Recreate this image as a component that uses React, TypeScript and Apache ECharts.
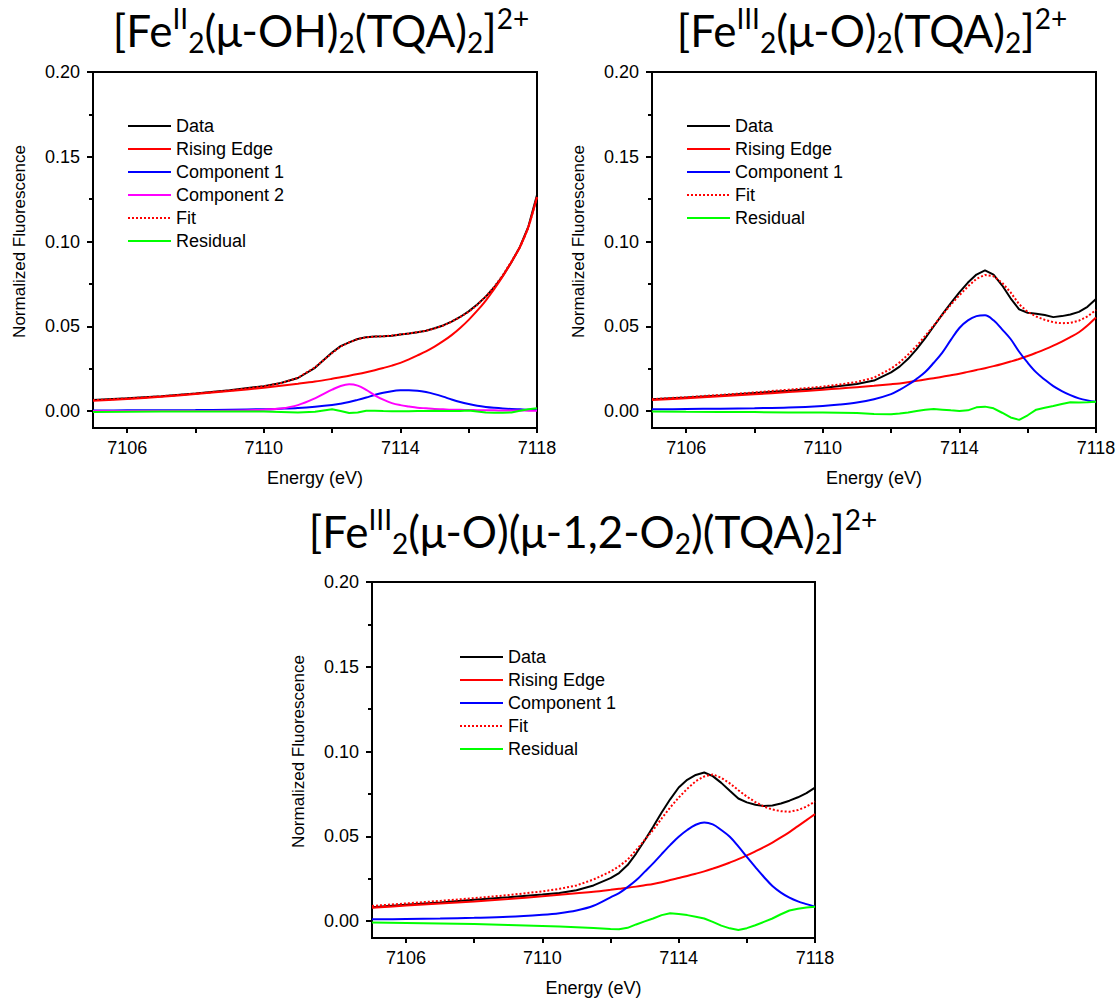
import React, { useEffect, useRef } from "react";
import * as echarts from "echarts";

// Shared energy grid (eV)
const energy = [7105, 7106, 7107, 7108, 7109, 7110, 7110.5, 7111, 7111.5, 7112, 7112.25, 7112.5, 7112.75, 7113, 7113.25, 7113.5, 7113.75, 7114, 7114.25, 7114.5, 7114.75, 7115, 7115.25, 7115.5, 7115.75, 7116, 7116.25, 7116.5, 7116.75, 7117, 7117.25, 7117.5, 7117.75, 7118];

// Panel 1: [FeII2(mu-OH)2(TQA)2]2+
const p1Data = [0.0065, 0.0075, 0.0088, 0.0104, 0.0122, 0.0147, 0.0165, 0.0195, 0.0255, 0.0345, 0.0383, 0.0405, 0.0425, 0.0436, 0.0440, 0.0441, 0.0444, 0.0452, 0.0458, 0.0465, 0.0474, 0.0488, 0.0505, 0.0527, 0.0555, 0.0588, 0.0628, 0.0675, 0.0730, 0.0798, 0.0878, 0.0968, 0.1090, 0.1275];
const p1Edge = [0.0060, 0.0071, 0.0084, 0.0100, 0.0118, 0.0138, 0.0149, 0.0161, 0.0174, 0.0190, 0.0199, 0.0208, 0.0218, 0.0229, 0.0241, 0.0254, 0.0268, 0.0284, 0.0305, 0.0328, 0.0352, 0.0380, 0.0412, 0.0448, 0.0490, 0.0538, 0.0592, 0.0652, 0.0720, 0.0795, 0.0878, 0.0968, 0.1088, 0.1262];
const p1Comp1 = [0.0003, 0.0004, 0.0005, 0.0006, 0.0008, 0.0011, 0.0014, 0.0018, 0.0025, 0.0035, 0.0043, 0.0053, 0.0066, 0.0080, 0.0095, 0.0108, 0.0117, 0.0122, 0.0123, 0.0120, 0.0112, 0.0100, 0.0085, 0.0068, 0.0053, 0.0041, 0.0031, 0.0024, 0.0019, 0.0015, 0.0012, 0.0010, 0.0008, 0.0007];
const p1Comp2 = [0, 0, 0, 0, 0.0002, 0.0008, 0.0015, 0.0035, 0.0075, 0.0126, 0.0148, 0.0158, 0.0150, 0.0125, 0.0093, 0.0067, 0.0047, 0.0035, 0.0027, 0.0020, 0.0016, 0.0012, 0.0010, 0.0008, 0.0007, 0.0006, 0.0005, 0.0004, 0.0004, 0.0003, 0.0003, 0.0003, 0.0002, 0.0002];
const p1Fit = [0.0064, 0.0074, 0.0087, 0.0103, 0.0121, 0.0146, 0.0164, 0.0196, 0.0258, 0.0342, 0.0380, 0.0405, 0.0425, 0.0435, 0.0439, 0.0441, 0.0445, 0.0452, 0.0458, 0.0465, 0.0474, 0.0487, 0.0504, 0.0527, 0.0555, 0.0585, 0.0626, 0.0676, 0.0734, 0.0802, 0.0882, 0.0966, 0.1082, 0.1262];
const p1Resid = [-0.0005, -0.0004, -0.0003, -0.0003, -0.0002, -0.0003, -0.0005, -0.0008, -0.0004, 0.0010, 0.0000, -0.0012, -0.0008, 0.0002, 0.0002, 0.0000, -0.0001, -0.0001, -0.0001, 0.0000, 0.0001, 0.0002, 0.0001, 0.0000, 0.0001, 0.0003, -0.0002, -0.0008, -0.0010, -0.0010, -0.0008, 0.0002, 0.0010, 0.0017];

// Panel 2: [FeIII2(mu-O)2(TQA)2]2+
const p2Data = [0.0069, 0.0080, 0.0092, 0.0106, 0.0120, 0.0136, 0.0148, 0.0160, 0.0180, 0.0228, 0.0262, 0.0308, 0.0365, 0.0430, 0.0500, 0.0570, 0.0636, 0.0700, 0.0758, 0.0805, 0.0830, 0.0805, 0.0742, 0.0665, 0.0600, 0.0580, 0.0574, 0.0566, 0.0554, 0.0560, 0.0570, 0.0585, 0.0615, 0.0661];
const p2Edge = [0.0065, 0.0076, 0.0087, 0.0099, 0.0112, 0.0126, 0.0133, 0.0141, 0.0149, 0.0158, 0.0163, 0.0170, 0.0178, 0.0186, 0.0194, 0.0202, 0.0211, 0.0220, 0.0231, 0.0242, 0.0253, 0.0265, 0.0278, 0.0292, 0.0307, 0.0325, 0.0344, 0.0364, 0.0386, 0.0410, 0.0436, 0.0465, 0.0505, 0.0552];
const p2Comp1 = [0.0010, 0.0012, 0.0014, 0.0017, 0.0021, 0.0030, 0.0038, 0.0050, 0.0070, 0.0100, 0.0125, 0.0155, 0.0190, 0.0230, 0.0285, 0.0345, 0.0420, 0.0490, 0.0535, 0.0560, 0.0565, 0.0535, 0.0482, 0.0425, 0.0350, 0.0285, 0.0228, 0.0185, 0.0147, 0.0118, 0.0094, 0.0075, 0.0063, 0.0055];
const p2Fit = [0.0070, 0.0082, 0.0095, 0.0110, 0.0126, 0.0144, 0.0157, 0.0172, 0.0197, 0.0250, 0.0287, 0.0333, 0.0385, 0.0443, 0.0505, 0.0567, 0.0627, 0.0683, 0.0735, 0.0780, 0.0803, 0.0795, 0.0757, 0.0700, 0.0630, 0.0585, 0.0558, 0.0538, 0.0524, 0.0518, 0.0520, 0.0533, 0.0558, 0.0596];
const p2Resid = [-0.0002, -0.0004, -0.0005, -0.0006, -0.0008, -0.0009, -0.0010, -0.0012, -0.0017, -0.0019, -0.0015, -0.0008, 0.0000, 0.0008, 0.0012, 0.0008, 0.0004, 0.0001, 0.0004, 0.0022, 0.0026, 0.0016, -0.0010, -0.0038, -0.0052, -0.0025, 0.0008, 0.0020, 0.0030, 0.0042, 0.0052, 0.0050, 0.0052, 0.0055];

// Panel 3: [FeIII2(mu-O)(mu-1,2-O2)(TQA)2]2+
const p3Data = [0.0081, 0.0096, 0.0110, 0.0125, 0.0140, 0.0156, 0.0166, 0.0182, 0.0210, 0.0253, 0.0283, 0.0330, 0.0398, 0.0475, 0.0556, 0.0640, 0.0718, 0.0788, 0.0833, 0.0862, 0.0876, 0.0855, 0.0815, 0.0768, 0.0723, 0.0700, 0.0686, 0.0679, 0.0682, 0.0693, 0.0710, 0.0730, 0.0755, 0.0787];
const p3Edge = [0.0079, 0.0091, 0.0103, 0.0116, 0.0130, 0.0146, 0.0155, 0.0164, 0.0173, 0.0184, 0.0190, 0.0196, 0.0203, 0.0211, 0.0219, 0.0229, 0.0242, 0.0254, 0.0266, 0.0279, 0.0293, 0.0309, 0.0326, 0.0345, 0.0365, 0.0387, 0.0411, 0.0436, 0.0463, 0.0493, 0.0525, 0.0560, 0.0595, 0.0631];
const p3Comp1 = [0.0010, 0.0012, 0.0015, 0.0019, 0.0025, 0.0037, 0.0046, 0.0062, 0.0090, 0.0140, 0.0165, 0.0200, 0.0240, 0.0290, 0.0340, 0.0395, 0.0448, 0.0497, 0.0537, 0.0568, 0.0582, 0.0570, 0.0537, 0.0497, 0.0440, 0.0378, 0.0318, 0.0260, 0.0207, 0.0168, 0.0138, 0.0116, 0.0100, 0.0085];
const p3Fit = [0.0089, 0.0104, 0.0119, 0.0135, 0.0153, 0.0175, 0.0190, 0.0210, 0.0245, 0.0292, 0.0323, 0.0362, 0.0418, 0.0478, 0.0537, 0.0605, 0.0670, 0.0728, 0.0780, 0.0825, 0.0853, 0.0865, 0.0845, 0.0812, 0.0772, 0.0734, 0.0702, 0.0675, 0.0658, 0.0648, 0.0645, 0.0655, 0.0675, 0.0704];
const p3Resid = [-0.0008, -0.0011, -0.0014, -0.0018, -0.0023, -0.0029, -0.0032, -0.0036, -0.0041, -0.0047, -0.0049, -0.0040, -0.0020, -0.0002, 0.0015, 0.0035, 0.0046, 0.0042, 0.0035, 0.0025, 0.0015, -0.0005, -0.0027, -0.0043, -0.0053, -0.0042, -0.0025, -0.0005, 0.0015, 0.0040, 0.0062, 0.0072, 0.0080, 0.0085];

// Axis ticks / labels
const xTickValues = [7106, 7108, 7110, 7112, 7114, 7116, 7118];
const xLabelValues = [7106, 7110, 7114, 7118];
const yMajorValues = [0, 0.05, 0.1, 0.15, 0.2];
const yMinorValues = [0.025, 0.075, 0.125, 0.175];

const titles = [
  "{n|[Fe}{sup|II}{sub|2}{n|(μ-OH)}{sub|2}{n|(TQA)}{sub|2}{n|]}{sup|2+}",
  "{n|[Fe}{sup|III}{sub|2}{n|(μ-O)}{sub|2}{n|(TQA)}{sub|2}{n|]}{sup|2+}",
  "{n|[Fe}{sup|III}{sub|2}{n|(μ-O)(μ-1,2-O}{sub|2}{n|)(TQA)}{sub|2}{n|]}{sup|2+}",
];

const SANS = '"Liberation Sans", Arial, sans-serif';
const TITLE_FONT = 'Lato, "Open Sans", sans-serif';

const panels = [
  { grid: { left: 93, top: 72, width: 444, height: 356 }, titleX: 321, titleY: 4, legend: { left: 127, top: 117 }, yName: { x: 19.5, y: 241.5 } },
  { grid: { left: 652, top: 72, width: 444, height: 356 }, titleX: 872, titleY: 4, legend: { left: 686, top: 117 }, yName: { x: 578.5, y: 241.5 } },
  { grid: { left: 372, top: 582, width: 443, height: 356 }, titleX: 593, titleY: 505, legend: { left: 459, top: 648 }, yName: { x: 298.5, y: 751.5 } },
];

type S = { name: string; values: number[]; color: string; dotted?: boolean; smooth?: boolean };

const panelSeries: S[][] = [
  [
    { name: "Data", values: p1Data, color: "#000000" },
    { name: "Rising Edge", values: p1Edge, color: "#ff0000", smooth: true },
    { name: "Component 1", values: p1Comp1, color: "#0000ff", smooth: true },
    { name: "Component 2", values: p1Comp2, color: "#ff00ff", smooth: true },
    { name: "Fit", values: p1Fit, color: "#ff0000", dotted: true },
    { name: "Residual", values: p1Resid, color: "#00ff00" },
  ],
  [
    { name: "Data", values: p2Data, color: "#000000" },
    { name: "Rising Edge", values: p2Edge, color: "#ff0000", smooth: true },
    { name: "Component 1", values: p2Comp1, color: "#0000ff", smooth: true },
    { name: "Fit", values: p2Fit, color: "#ff0000", dotted: true },
    { name: "Residual", values: p2Resid, color: "#00ff00" },
  ],
  [
    { name: "Data", values: p3Data, color: "#000000" },
    { name: "Rising Edge", values: p3Edge, color: "#ff0000", smooth: true },
    { name: "Component 1", values: p3Comp1, color: "#0000ff", smooth: true },
    { name: "Fit", values: p3Fit, color: "#ff0000", dotted: true },
    { name: "Residual", values: p3Resid, color: "#00ff00" },
  ],
];

function buildOption() {
  const grid: any[] = [];
  const xAxis: any[] = [];
  const yAxis: any[] = [];
  const series: any[] = [];
  const legend: any[] = [];
  const title: any[] = [];
  const graphic: any[] = [];

  panels.forEach((p, i) => {
    grid.push({ ...p.grid, show: true, borderColor: "#000", borderWidth: 2, containLabel: false });
    xAxis.push({
      type: "value",
      gridIndex: i,
      min: 7105,
      max: 7118,
      name: "Energy (eV)",
      nameLocation: "middle",
      nameGap: 41,
      nameTextStyle: { fontSize: 18, color: "#000", fontFamily: SANS },
      axisLine: { show: true, onZero: false, lineStyle: { color: "#000", width: 2 } },
      axisTick: { show: true, inside: false, length: 5, lineStyle: { color: "#000", width: 2 }, customValues: xTickValues },
      axisLabel: { show: true, margin: 11, fontSize: 18, color: "#000", fontFamily: SANS, customValues: xLabelValues, formatter: (v: number) => String(v) },
      splitLine: { show: false },
    });
    yAxis.push({
      type: "value",
      gridIndex: i,
      min: -0.01,
      max: 0.2,
      position: "left",
      axisLine: { show: true, onZero: false, lineStyle: { color: "#000", width: 2 } },
      axisTick: { show: true, inside: false, length: 6, lineStyle: { color: "#000", width: 2 }, customValues: yMajorValues },
      axisLabel: { show: true, margin: 13, fontSize: 18, color: "#000", fontFamily: SANS, customValues: yMajorValues, formatter: (v: number) => v.toFixed(2) },
      splitLine: { show: false },
    });
    yAxis.push({
      type: "value",
      gridIndex: i,
      min: -0.01,
      max: 0.2,
      position: "left",
      axisLine: { show: false },
      axisTick: { show: true, inside: false, length: 4, lineStyle: { color: "#000", width: 2 }, customValues: yMinorValues },
      axisLabel: { show: false },
      splitLine: { show: false },
    });
    panelSeries[i].forEach((s) => {
      series.push({
        type: "line",
        name: s.name,
        xAxisIndex: i,
        yAxisIndex: 2 * i,
        data: energy.map((e, k) => [e, s.values[k]]),
        showSymbol: false,
        symbol: "none",
        smooth: s.smooth ? 0.35 : false,
        color: s.color,
        lineStyle: { color: s.color, width: 2, type: s.dotted ? [2, 2] : "solid" },
        silent: true,
      });
    });
    legend.push({
      orient: "vertical",
      left: p.legend.left,
      top: p.legend.top,
      padding: 0,
      itemWidth: 43,
      itemHeight: 14,
      itemGap: 5,
      selectedMode: false,
      itemStyle: { opacity: 0 },
      textStyle: { fontSize: 18, color: "#000", fontFamily: SANS },
      data: panelSeries[i].map((s) => s.name),
    });
    title.push({
      text: titles[i],
      left: p.titleX,
      top: p.titleY,
      textAlign: "center",
      padding: 0,
      textStyle: {
        color: "#000",
        fontFamily: TITLE_FONT,
        fontWeight: "normal",
        rich: {
          n: { fontSize: 44, lineHeight: 52, fontFamily: TITLE_FONT, color: "#000" },
          sup: { fontSize: 28, lineHeight: 40, verticalAlign: "top", fontFamily: TITLE_FONT, color: "#000" },
          sub: { fontSize: 28, lineHeight: 26, verticalAlign: "bottom", fontFamily: TITLE_FONT, color: "#000" },
        },
      },
    });
    graphic.push({
      type: "text",
      x: p.yName.x,
      y: p.yName.y,
      rotation: Math.PI / 2,
      style: {
        text: "Normalized Fluorescence",
        font: `17px ${SANS}`,
        fill: "#000",
        align: "center",
        verticalAlign: "middle",
        textAlign: "center",
        textVerticalAlign: "middle",
      },
    });
  });

  return { animation: false, backgroundColor: "#ffffff", title, grid, xAxis, yAxis, series, legend, graphic };
}

export default function App() {
  const ref = useRef<HTMLDivElement>(null);
  useEffect(() => {
    if (!ref.current) return;
    const chart = echarts.init(ref.current, undefined, { renderer: "svg" });
    chart.setOption(buildOption() as any);
    return () => chart.dispose();
  }, []);
  return <div ref={ref} style={{ position: "fixed", left: 0, top: 0, width: 1120, height: 1000, background: "#fff" }} />;
}
